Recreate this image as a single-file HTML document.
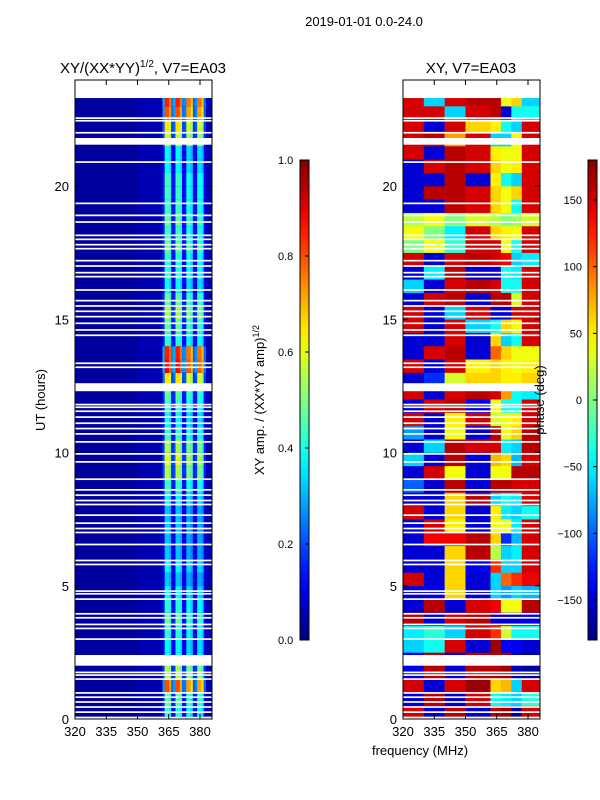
<!DOCTYPE html>
<html><head><meta charset="utf-8"><style>
body{margin:0;background:#fff;}
svg{display:block;font-family:"Liberation Sans",sans-serif;}
</style></head><body>
<svg id="fig" width="600" height="800" viewBox="0 0 600 800">
<rect width="600" height="800" fill="#fff"/>
<text x="364" y="26" font-size="13" text-anchor="middle">2019-01-01 0.0-24.0</text>
<text x="143" y="73" font-size="15" text-anchor="middle">XY/(XX*YY)<tspan font-size="10" dy="-6">1/2</tspan><tspan dy="6">, V7=EA03</tspan></text>
<text x="471" y="73" font-size="15" text-anchor="middle">XY, V7=EA03</text>
<g id="ampPanel"></g>
<g id="phPanel"></g>
<g id="axes"></g>
<text transform="translate(45,400) rotate(-90)" font-size="13" text-anchor="middle">UT (hours)</text>
<text x="420" y="755" font-size="13" text-anchor="middle">frequency (MHz)</text>
<text transform="translate(264,400) rotate(-90)" font-size="13" text-anchor="middle">XY amp. / (XX*YY amp)<tspan font-size="9" dy="-5">1/2</tspan></text>
<text transform="translate(544,400) rotate(-90)" font-size="13" text-anchor="middle">phase (deg)</text>
</svg>
<script>
const hours = [0,0.5,1,1.5,2,2.5,3,3.5,4,4.5,5,5.5,6,6.5,7,7.5,8,8.5,9,9.5,10,10.5,11,11.5,12,12.5,13,13.5,14,14.5,15,15.5,16,16.5,17,17.5,18,18.5,19,19.5,20,20.5,21,21.5,22,22.5,23];
const rowAmp = [0.42,0.48,0.8,0.55,0.4,0.38,0.42,0.48,0.42,0.38,0.32,0.38,0.32,0.32,0.33,0.32,0.38,0.44,0.55,0.6,0.55,0.44,0.38,0.44,0.48,0.65,0.88,0.85,0.42,0.48,0.55,0.48,0.38,0.42,0.42,0.48,0.44,0.48,0.44,0.44,0.44,0.38,0.38,0.58,0.65,0.8,0.85];
const bandStarts = [362,367.2,372.4,377.6];
const bandFactor = [1,1,0.9,0.9];
const bandProfile = [0.35,1,1,0.9,0.3];
const phaseEdges = [320,330,340,350,362,367,372,377,386];
const phase = [
[150,-150,160,-150,160,170,-170,150],
[-150,160,-150,150,-40,-50,-60,-30],
[150,-150,150,170,60,70,-60,150],
[-140,160,-150,160,160,170,-160,-170],
[-140,160,-150,160,160,170,-160,-170],
[-60,-40,150,-150,170,-140,-140,-150],
[-50,-30,-60,150,120,30,-40,-40],
[160,-150,150,160,-150,-150,-150,-140],
[-150,160,-150,150,140,40,40,160],
[-150,-140,60,-150,-60,-80,-60,-70],
[150,-150,60,-150,-60,100,120,140],
[-150,-150,60,-140,120,-60,-60,150],
[-150,-150,60,160,20,-60,-50,150],
[-150,140,140,160,60,-120,-70,150],
[-150,150,50,-150,40,40,-50,150],
[150,-150,60,-150,50,-50,-60,-40],
[-150,-150,60,160,-60,-40,-50,150],
[-100,-150,160,-150,160,160,150,150],
[-150,150,40,-150,40,40,160,160],
[-60,-150,160,-150,70,60,-70,150],
[-150,-60,160,150,150,-50,-60,160],
[-80,-150,40,-150,160,40,60,160],
[150,-150,50,150,30,40,50,150],
[-150,150,160,-140,40,-40,-40,150],
[150,-150,150,160,150,80,-40,-50],
[-150,-120,30,60,60,50,50,60],
[150,-150,150,50,60,50,40,50],
[-150,150,160,-150,100,60,40,40],
[-150,-150,150,-150,60,-60,-40,150],
[150,-150,150,-60,-40,60,40,150],
[150,-150,-60,150,-150,-150,150,150],
[-150,150,160,-150,160,160,30,150],
[-60,-150,150,160,150,-40,-40,150],
[-150,-50,160,-150,-150,-40,-50,150],
[150,-150,150,160,150,140,-60,-50],
[0,40,-30,150,150,40,-40,150],
[40,0,-50,150,60,50,40,150],
[20,40,0,30,20,0,10,30],
[-150,-150,160,150,60,40,-40,150],
[-150,160,160,150,60,40,60,150],
[-150,-150,160,-150,50,-40,-60,150],
[-150,150,160,150,60,40,50,150],
[150,-150,160,150,50,40,40,150],
[150,160,80,150,-60,-60,40,150],
[150,-150,150,60,50,-40,-60,150],
[150,150,-60,150,160,-150,-40,-40],
[150,-60,150,160,160,40,60,-60]];
const bigGaps = [[2.0,2.4],[12.3,12.6],[21.55,21.8]];
const thinGaps = [22.55,22.45,22.0,20.9,19.35,18.9,18.65,18.15,18.0,17.8,17.65,17.2,17.0,16.75,16.6,16.1,15.7,15.5,15.3,15.1,14.85,14.6,14.4,13.35,13.2,11.8,11.7,11.55,11.33,11.1,10.9,10.7,10.4,9.95,9.65,9.0,8.6,8.4,8.2,8.05,7.65,7.35,7.15,7.0,6.55,5.95,5.8,4.8,4.7,4.5,3.95,3.8,3.55,3.4,3.0,1.75,1.65,1.5,0.98,0.82,0.64,0.45,0.26];
const dataRange = [0.1,23.3];
const yTicks = [0,5,10,15,20];
const xTicks = [320,335,350,365,380];
const ampTicks = [0.0,0.2,0.4,0.6,0.8,1.0];
const phTicks = [-150,-100,-50,0,50,100,150];

const NS="http://www.w3.org/2000/svg";
const svg=document.getElementById('fig');
function el(tag,attrs,parent){const e=document.createElementNS(NS,tag);for(const k in attrs)e.setAttribute(k,attrs[k]);(parent||svg).appendChild(e);return e;}
function jet(v){v=Math.max(0,Math.min(1,v));
 const r=Math.max(0,Math.min(1,1.5-Math.abs(4*v-3)));
 const g=Math.max(0,Math.min(1,1.5-Math.abs(4*v-2)));
 const b=Math.max(0,Math.min(1,1.5-Math.abs(4*v-1)));
 return `rgb(${Math.round(r*255)},${Math.round(g*255)},${Math.round(b*255)})`;}
const xL=f=>75+(f-320)*125/60;
const xR=f=>403+(f-320)*125/60;
const yH=h=>719-h*26.65;
const fMax=385.8;

const amp=document.getElementById('ampPanel');
const ph=document.getElementById('phPanel');
hours.forEach((h,i)=>{
 const h0=Math.max(h,dataRange[0]), h1=Math.min(h+0.5,dataRange[1]);
 if(h1<=h0)return;
 const yt=yH(h1), ht=yH(h0)-yH(h1)+0.3;
 let r=el('rect',{x:xL(320),y:yt,width:xL(350)-xL(320),height:ht,fill:jet(0.03)},amp);
 
 
 r=el('rect',{x:xL(350),y:yt,width:xL(fMax)-xL(350),height:ht,fill:jet(0.05)},amp);
 
 
 bandStarts.forEach((bs,b)=>{
  bandProfile.forEach((p,k)=>{
   const c=el('rect',{x:xL(bs+k*1.04),y:yt,width:1.04*125/60+0.2,height:ht,fill:jet(rowAmp[i]*bandFactor[b]*p)},amp);
   
   
  });
 });
 phase[i].forEach((v,j)=>{
  const c=el('rect',{x:xR(phaseEdges[j]),y:yt,width:xR(Math.min(phaseEdges[j+1],fMax))-xR(phaseEdges[j])+0.2,height:ht,fill:jet((v+180)/360)},ph);
  
  
 });
});
[amp,ph].forEach((g,gi)=>{
 const x0=gi?403:75;
 bigGaps.forEach(([a,b])=>{const r=el('rect',{x:x0,y:yH(b),width:137,height:yH(a)-yH(b),fill:'#fff'},g);
  
  });
 thinGaps.forEach(t=>{const r=el('rect',{x:x0,y:yH(t)-0.8,width:137,height:1.7,fill:'#fff'},g);
  
  });
});

const ax=document.getElementById('axes');
[[75,'amp'],[403,'phase']].forEach(([x0,nm])=>{
 const f=el('rect',{x:x0,y:80,width:137,height:639,fill:'none',stroke:'#000','stroke-width':1},ax);
 
 
 const xf=x0===75?xL:xR;
 xTicks.forEach(t=>{
  el('line',{x1:xf(t),x2:xf(t),y1:719,y2:714,stroke:'#000'},ax);
  el('line',{x1:xf(t),x2:xf(t),y1:80,y2:85,stroke:'#000'},ax);
  const tx=el('text',{x:xf(t),y:736,'font-size':13,'text-anchor':'middle'},ax);tx.textContent=t;
  
  
 });
 yTicks.forEach(t=>{
  el('line',{x1:x0,x2:x0+5,y1:yH(t),y2:yH(t),stroke:'#000'},ax);
  el('line',{x1:x0+137,x2:x0+132,y1:yH(t),y2:yH(t),stroke:'#000'},ax);
  const tx=el('text',{x:x0-6,y:yH(t)+5,'font-size':13,'text-anchor':'end'},ax);tx.textContent=t;
  
  
 });
});
const defs=el('defs',{});
const lg=el('linearGradient',{id:'jetg',x1:0,y1:1,x2:0,y2:0},defs);
for(let k=0;k<=20;k++){el('stop',{offset:k/20,'stop-color':jet(k/20)},lg);}
[[300,'amp'],[588,'phase']].forEach(([cx,nm])=>{
 const r=el('rect',{x:cx,y:160,width:9,height:480,fill:'url(#jetg)',stroke:'#000','stroke-width':1},ax);
 
 
});
ampTicks.forEach(t=>{const y=640-t*480;
 el('line',{x1:305,x2:309,y1:y,y2:y,stroke:'#000'},ax);
 const tx=el('text',{x:278,y:y+4,'font-size':11},ax);tx.textContent=t.toFixed(1);
 
 });
phTicks.forEach(t=>{const y=400-t*240/180;
 el('line',{x1:593,x2:597,y1:y,y2:y,stroke:'#000'},ax);
 const tx=el('text',{x:582,y:y+4,'font-size':11,'text-anchor':'end'},ax);tx.textContent=(t<0?'\u2212'+(-t):t);
 
 });
</script>
</body></html>
